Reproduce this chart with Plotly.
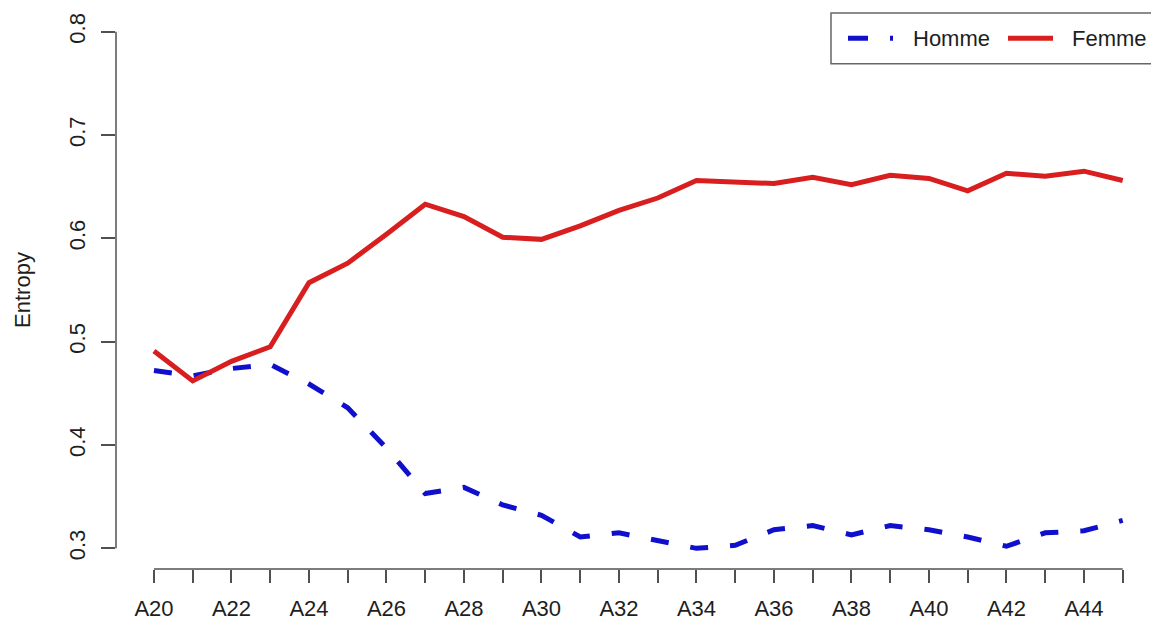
import plotly.graph_objects as go

# Age groups on the horizontal axis
categories = ["A20", "A21", "A22", "A23", "A24", "A25", "A26", "A27", "A28",
              "A29", "A30", "A31", "A32", "A33", "A34", "A35", "A36", "A37",
              "A38", "A39", "A40", "A41", "A42", "A43", "A44", "A45"]

# Labels printed under the axis (every other group)
shown_labels = ["A20", "A22", "A24", "A26", "A28", "A30", "A32",
                "A34", "A36", "A38", "A40", "A42", "A44"]

# Entropy per age group
homme = [0.472, 0.467, 0.474, 0.478, 0.459, 0.436, 0.397, 0.353, 0.359,
         0.342, 0.332, 0.311, 0.315, 0.308, 0.300, 0.303, 0.318, 0.322,
         0.313, 0.322, 0.318, 0.311, 0.302, 0.315, 0.317, 0.327]
femme = [0.491, 0.462, 0.481, 0.495, 0.557, 0.576, 0.604, 0.633, 0.621,
         0.601, 0.599, 0.612, 0.627, 0.639, 0.656, 0.655, 0.653, 0.659,
         0.652, 0.661, 0.658, 0.646, 0.663, 0.660, 0.665, 0.656]

y_ticks = [0.3, 0.4, 0.5, 0.6, 0.7, 0.8]

BLUE = "#1010cc"
RED = "#d81e1e"
AXIS = "#505050"
TEXT = "#1e1e1e"
FONT = "Liberation Sans, Arial, sans-serif"
FS = 22

W, H = 1151, 621
ML, MR, MT, MB = 116, 0, 11, 49


def paper_x(p):
    return (p - ML) / (W - ML - MR)


def paper_y(p):
    return (H - MB - p) / (H - MT - MB)


fig = go.Figure()
fig.add_trace(go.Scatter(
    x=categories, y=homme, mode="lines", name="Homme", showlegend=False,
    line=dict(color=BLUE, width=5, dash="18px,22px"),
))
fig.add_trace(go.Scatter(
    x=categories, y=femme, mode="lines", name="Femme", showlegend=False,
    line=dict(color=RED, width=5),
))

tick_text = [c if c in shown_labels else "" for c in categories]

fig.update_layout(
    width=W, height=H,
    margin=dict(l=ML, r=MR, t=MT, b=MB, pad=0),
    paper_bgcolor="white", plot_bgcolor="white",
    font=dict(family=FONT, size=FS, color=TEXT),
    xaxis=dict(
        type="category", categoryorder="array", categoryarray=categories,
        range=[-0.98, 25.73],
        tickmode="array", tickvals=categories, ticktext=tick_text,
        ticks="outside", ticklen=13, tickwidth=1.5, tickcolor=AXIS,
        showline=False, showgrid=False, zeroline=False,
        tickfont=dict(size=FS, color=TEXT),
        ticklabelstandoff=7,
    ),
    yaxis=dict(
        range=[0.28, 0.82],
        tickmode="array", tickvals=y_ticks, ticktext=[f"{v:.1f}" for v in y_ticks],
        ticks="outside", ticklen=14, tickwidth=1.5, tickcolor=AXIS,
        tickangle=-90,
        showline=False, showgrid=False, zeroline=False,
        tickfont=dict(size=FS, color=TEXT),
        ticklabelstandoff=7,
        title=dict(text="Entropy", font=dict(size=FS, color=TEXT), standoff=28),
    ),
)

# Axis lines span only the labelled range, as in base-R graphics
fig.add_shape(type="line", xref="x", yref="paper",
              x0=categories[0], x1=categories[-1], y0=0, y1=0,
              line=dict(color=AXIS, width=1.5))
fig.add_shape(type="line", xref="paper", yref="y",
              x0=0, x1=0, y0=y_ticks[0], y1=y_ticks[-1],
              line=dict(color=AXIS, width=1.5))

# Legend box in the top-right corner
fig.add_shape(type="rect", xref="paper", yref="paper",
              x0=paper_x(831), x1=paper_x(1170), y0=paper_y(64), y1=paper_y(13),
              line=dict(color="#666666", width=1.5), fillcolor="white", layer="above")
ly = paper_y(38.5)
fig.add_shape(type="line", xref="paper", yref="paper",
              x0=paper_x(848), x1=paper_x(893), y0=ly, y1=ly,
              line=dict(color=BLUE, width=5, dash="20px,22px"), layer="above")
fig.add_shape(type="line", xref="paper", yref="paper",
              x0=paper_x(1008), x1=paper_x(1053), y0=ly, y1=ly,
              line=dict(color=RED, width=5), layer="above")
fig.add_annotation(text="Homme", xref="paper", yref="paper", x=paper_x(911), y=ly,
                   xanchor="left", yanchor="middle", showarrow=False,
                   font=dict(size=FS, color=TEXT))
fig.add_annotation(text="Femme", xref="paper", yref="paper", x=paper_x(1070), y=ly,
                   xanchor="left", yanchor="middle", showarrow=False,
                   font=dict(size=FS, color=TEXT))

fig.write_html("out.html")
